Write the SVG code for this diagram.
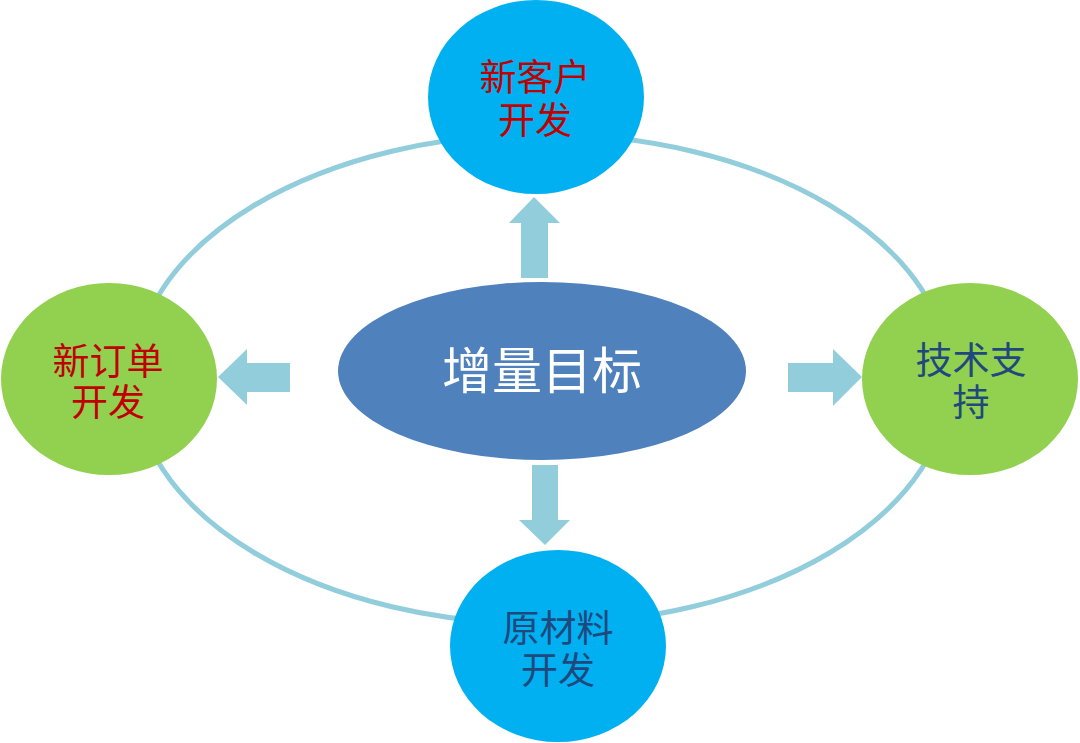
<svg xmlns="http://www.w3.org/2000/svg" width="1080" height="743" viewBox="0 0 1080 743">
  <style>
    .t { font-family: "Noto Sans CJK SC", "Noto Sans", sans-serif; text-anchor: middle; }
    .lbl { font-size: 37px; }
    .red { fill: #C00000; }
    .navy { fill: #1F497D; }
    .arrow { fill: #92CDDC; }
  </style>
  <rect width="1080" height="743" fill="#FFFFFF"/>
  <g id="ring">
    <ellipse cx="542" cy="379" rx="408" ry="245" fill="none" stroke="#92CDDC" stroke-width="5"/>
  </g>
  <g id="connectors">
    <polygon class="arrow" points="534,197 560,223 548,223 548,278 521,278 521,223 509,223"/>
    <polygon class="arrow" points="218,377 247,349 247,363 290,363 290,392 247,392 247,405"/>
    <polygon class="arrow" points="862,377 833,349 833,363 788,363 788,392 833,392 833,406"/>
    <polygon class="arrow" points="545,545 570,520 558,520 558,465 532,465 532,520 519,520"/>
  </g>
  <g id="center">
    <ellipse cx="542" cy="371" rx="204" ry="89" fill="#4F81BD"/>
    <text class="t" x="542" y="389" font-size="50" fill="#FFFFFF">增量目标</text>
  </g>
  <g id="top">
    <ellipse cx="536" cy="97" rx="108" ry="97" fill="#00B0F0"/>
    <text class="t lbl red"><tspan x="535" y="91">新客户</tspan><tspan x="535" y="134">开发</tspan></text>
  </g>
  <g id="left">
    <ellipse cx="109" cy="379" rx="108" ry="96" fill="#92D050"/>
    <text class="t lbl red"><tspan x="108" y="375">新订单</tspan><tspan x="108" y="416">开发</tspan></text>
  </g>
  <g id="right">
    <ellipse cx="970" cy="379" rx="108" ry="96" fill="#92D050"/>
    <text class="t lbl navy"><tspan x="971" y="374">技术支</tspan><tspan x="971" y="416">持</tspan></text>
  </g>
  <g id="bottom">
    <ellipse cx="558" cy="646" rx="108" ry="96" fill="#00B0F0"/>
    <text class="t lbl navy"><tspan x="558" y="642">原材料</tspan><tspan x="558" y="684">开发</tspan></text>
  </g>
</svg>
